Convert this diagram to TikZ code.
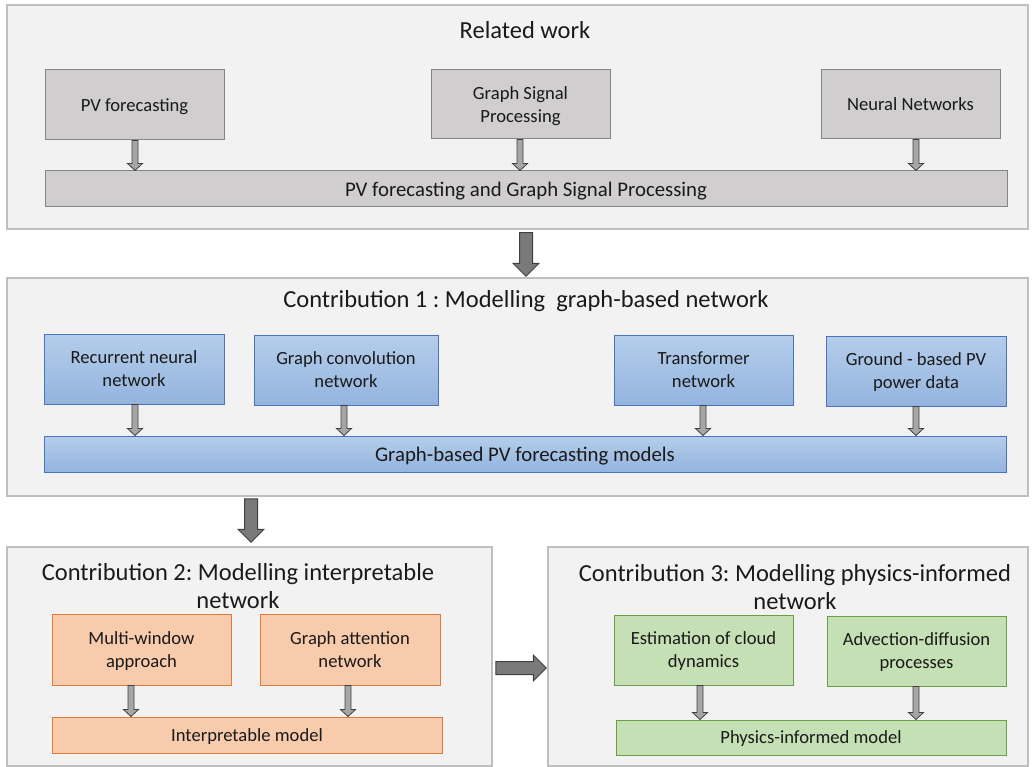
\documentclass[tikz,border=0pt]{standalone}
\usepackage{fontspec}
\setmainfont{Carlito}
\usetikzlibrary{calc}
\frenchspacing

\definecolor{panelfill}{HTML}{F2F2F2}
\definecolor{panelline}{HTML}{BFBFBF}
\definecolor{grayfill}{HTML}{D0CECE}
\definecolor{grayline}{HTML}{858585}
\definecolor{bluetop}{HTML}{B4CDEA}
\definecolor{bluebot}{HTML}{94B4DF}
\definecolor{blueline}{HTML}{4A74BC}
\definecolor{orangefill}{HTML}{F8CBAD}
\definecolor{orangeline}{HTML}{E07B39}
\definecolor{greenfill}{HTML}{C5E0B4}
\definecolor{greenline}{HTML}{6C9E48}
\definecolor{arrowlight}{HTML}{A6A6A6}
\definecolor{arrowdark}{HTML}{7A7A7A}
\definecolor{arrowline}{HTML}{404040}
\definecolor{textcol}{HTML}{1A1A1A}

\tikzset{
  panel/.style={draw=panelline, fill=panelfill, line width=1.5pt, inner sep=0pt},
  paneltitle/.style={font=\fontsize{24.5}{28}\selectfont, text=textcol, align=center, inner sep=0pt},
  boxtext/.style={font=\fontsize{18.6}{23}\selectfont, text=textcol, align=center, inner sep=0pt, text depth=0pt},
  widetext/.style={font=\fontsize{20.8}{24}\selectfont},
  bartext/.style={text depth=-3pt},
  graybox/.style={boxtext, draw=grayline, fill=grayfill, line width=1pt},
  bluebox/.style={boxtext, draw=blueline, top color=bluetop, bottom color=bluebot, line width=1pt},
  orangebox/.style={boxtext, draw=orangeline, fill=orangefill, line width=1pt},
  greenbox/.style={boxtext, draw=greenline, fill=greenfill, line width=1pt},
  sz/.style 2 args={minimum width=#1pt, minimum height=#2pt},
  % block arrow geometry
  smallarrow/.code={\def\arrShaft{3pt}\def\arrHead{7.5pt}\def\arrLen{7pt}},
  bigarrow/.code={\def\arrShaft{6.5pt}\def\arrHead{13pt}\def\arrLen{13pt}},
  blockdown/.style={to path={let \p1=(\tikztostart), \p2=(\tikztotarget) in
    (\x1-\arrShaft,\y1) -- (\x1+\arrShaft,\y1) -- (\x1+\arrShaft,\y2+\arrLen)
    -- (\x1+\arrHead,\y2+\arrLen) -- (\x1,\y2) -- (\x1-\arrHead,\y2+\arrLen)
    -- (\x1-\arrShaft,\y2+\arrLen) -- cycle}},
  blockright/.style={to path={let \p1=(\tikztostart), \p2=(\tikztotarget) in
    (\x1,\y1+\arrShaft) -- (\x1,\y1-\arrShaft) -- (\x2-\arrLen,\y1-\arrShaft)
    -- (\x2-\arrLen,\y1-\arrHead) -- (\x2,\y1) -- (\x2-\arrLen,\y1+\arrHead)
    -- (\x2-\arrLen,\y1+\arrShaft) -- cycle}},
  feed/.style={smallarrow, blockdown, draw=arrowline, fill=arrowlight, line width=0.8pt},
  stage/.style={bigarrow, blockdown, draw=arrowline, fill=arrowdark, line width=1pt},
  stageright/.style={bigarrow, blockright, draw=arrowline, fill=arrowdark, line width=1pt},
}

\begin{document}
\begin{tikzpicture}[x=1pt, y=-1pt]
\useasboundingbox (0,0) rectangle (1035,767);

% ---------------- Related work ----------------
\node[panel, sz={1021}{224}] (p1) at (517.5,117) {};
\node[paneltitle] (t1) at (525,30) {Related work};
\node[graybox, sz={179}{70}] (pvf) at (134.5,105) {PV forecasting};
\node[graybox, sz={179}{69}] (gsp) at (520.5,104.5) {Graph Signal\\Processing};
\node[graybox, sz={179}{69}] (nn) at (910.5,104.5) {Neural Networks};
\node[graybox, widetext, bartext, sz={962}{36}] (bar1) at (526,189) {PV forecasting and Graph Signal Processing};
\draw[feed] ([xshift=0.5pt]pvf.south) to ([xshift=0.5pt]pvf.south |- bar1.north);
\draw[feed] ([xshift=-0.5pt]gsp.south) to ([xshift=-0.5pt]gsp.south |- bar1.north);
\draw[feed] ([xshift=5.5pt]nn.south) to ([xshift=5.5pt]nn.south |- bar1.north);

% ---------------- Contribution 1 ----------------
\node[panel, sz={1021}{218}] (p2) at (517.5,387) {};
\node[paneltitle] (t2) at (526,301) {Contribution 1 : Modelling\ \ graph-based network};
\node[bluebox, sz={180}{70}] (rnn) at (134,369) {Recurrent neural\\network};
\node[bluebox, sz={184}{70}] (gcn) at (346,370) {Graph convolution\\network};
\node[bluebox, sz={179}{70}] (tfn) at (703.5,370) {Transformer\\network};
\node[bluebox, sz={180}{70}] (gpv) at (916,371) {Ground - based PV\\power data};
\node[bluebox, widetext, bartext, sz={962}{36}] (bar2) at (525,454) {Graph-based PV forecasting models};
\draw[feed] ([xshift=1pt]rnn.south) to ([xshift=1pt]rnn.south |- bar2.north);
\draw[feed] ([xshift=-2pt]gcn.south) to ([xshift=-2pt]gcn.south |- bar2.north);
\draw[feed] ([xshift=-0.5pt]tfn.south) to ([xshift=-0.5pt]tfn.south |- bar2.north);
\draw[feed] (gpv.south) to (gpv.south |- bar2.north);

% ---------------- Contribution 2 ----------------
\node[panel, sz={485}{219}] (p3) at (249.5,656.5) {};
\node[paneltitle] (t3) at (238,586) {Contribution 2: Modelling interpretable\\network};
\node[orangebox, sz={179}{71}] (mwa) at (141.5,649.5) {Multi-window\\approach};
\node[orangebox, sz={180}{71}] (gat) at (350,649.5) {Graph attention\\network};
\node[orangebox, bartext, sz={390}{36}] (bar3) at (247,735) {Interpretable model};
\draw[feed] ([xshift=-10.5pt]mwa.south) to ([xshift=-10.5pt]mwa.south |- bar3.north);
\draw[feed] ([xshift=-2pt]gat.south) to ([xshift=-2pt]gat.south |- bar3.north);

% ---------------- Contribution 3 ----------------
\node[panel, sz={480}{219}] (p4) at (788,656.5) {};
\node[paneltitle] (t4) at (795,587) {Contribution 3: Modelling physics-informed\\network};
\node[greenbox, sz={179}{70}] (ecd) at (703.5,650) {Estimation of cloud\\dynamics};
\node[greenbox, sz={179}{70}] (adp) at (916.5,651) {Advection-diffusion\\processes};
\node[greenbox, bartext, sz={390}{35}] (bar4) at (811,737.5) {Physics-informed model};
\draw[feed] ([xshift=-3.5pt]ecd.south) to ([xshift=-3.5pt]ecd.south |- bar4.north);
\draw[feed] ([xshift=-0.5pt]adp.south) to ([xshift=-0.5pt]adp.south |- bar4.north);

% ---------------- flow between stages ----------------
\coordinate (s2top) at ([xshift=-266.5pt, yshift=-2pt]p2.south);
\coordinate (s3top) at ([xshift=-266.5pt]p2.south |- p3.north);
\draw[stage] ([xshift=8.5pt, yshift=-3pt]p1.south) to ([xshift=8.5pt, yshift=1pt]p2.north);
\draw[stage] (s2top) to ([yshift=4pt]s3top);
\draw[stageright] ([xshift=3pt, yshift=-11.5pt]p3.east) to ([xshift=-1pt, yshift=-11.5pt]p4.west);
\end{tikzpicture}
\end{document}
